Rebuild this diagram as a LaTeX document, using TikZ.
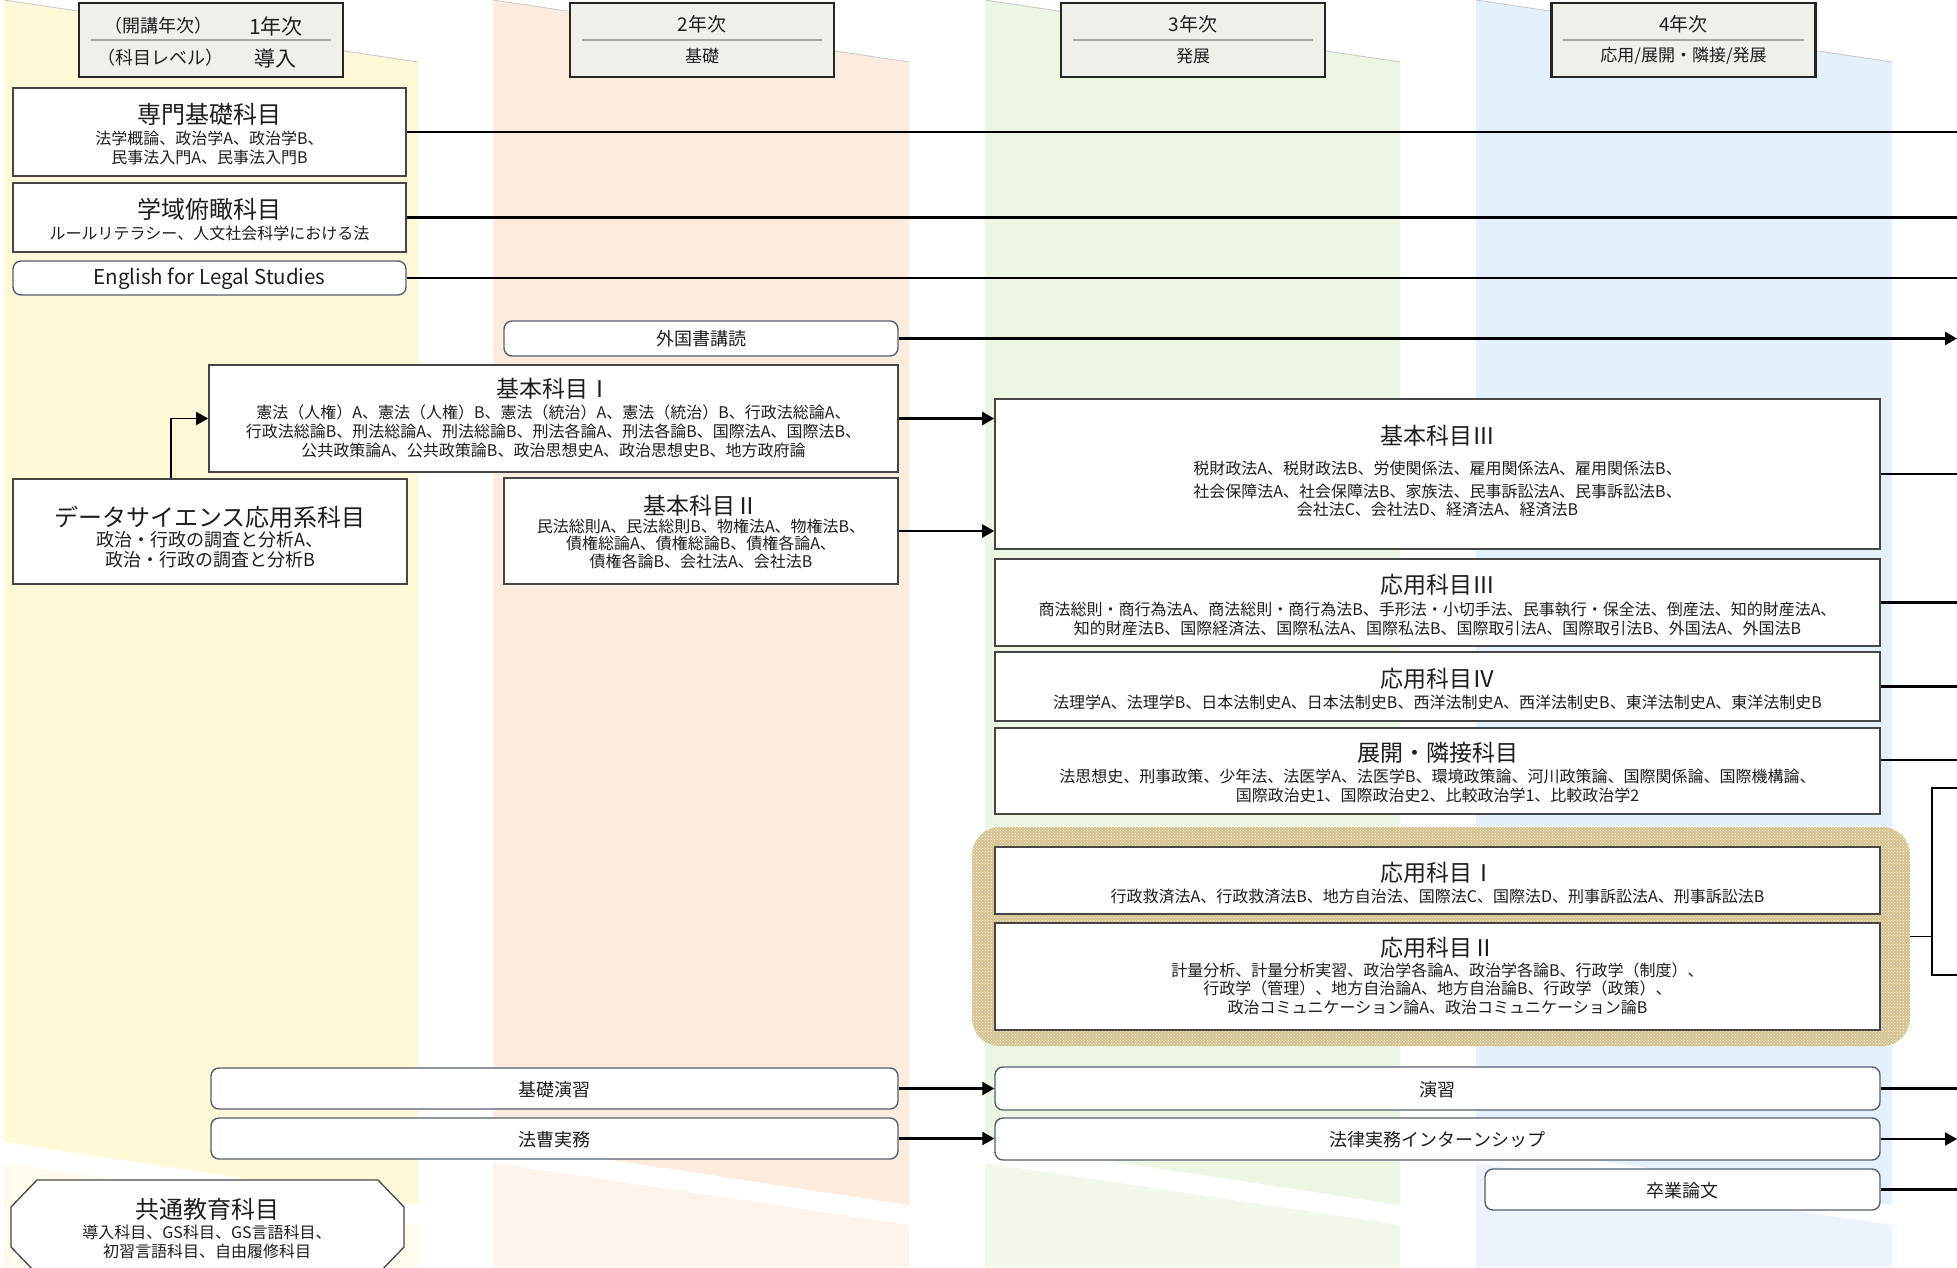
\documentclass[tikz,border=0pt]{standalone}
\usepackage{fontspec}
\setmainfont{Noto Sans CJK JP}
\usetikzlibrary{arrows.meta,patterns}
\definecolor{colA}{RGB}{255,249,215}
\definecolor{colAl}{RGB}{255,250,236}
\definecolor{colB}{RGB}{253,236,222}
\definecolor{colBl}{RGB}{253,243,234}
\definecolor{colC}{RGB}{236,246,226}
\definecolor{colCl}{RGB}{242,247,236}
\definecolor{colD}{RGB}{228,240,252}
\definecolor{colDl}{RGB}{237,243,250}
\definecolor{hdrfill}{RGB}{240,240,234}
\definecolor{boxline}{RGB}{70,70,70}
\definecolor{rline}{RGB}{85,95,115}
\definecolor{txt}{RGB}{30,30,30}
\definecolor{hatchbg}{RGB}{212,192,138}
\tikzset{
 hdr/.style={draw=black!85, line width=2.5pt, fill=hdrfill, minimum width=264pt, minimum height=74pt, inner sep=0pt},
 sepline/.style={draw=black!35, line width=1.5pt},
 box/.style={draw=boxline, line width=1.6pt, fill=white, inner sep=0pt},
 rbox/.style={draw=rline, line width=1.4pt, fill=white, rounded corners=8pt, inner sep=0pt},
 ttl/.style={font=\fontsize{23}{27}\selectfont, text=txt, inner sep=0pt},
 sub/.style={font=\fontsize{16}{19}\selectfont, text=txt, align=center, inner sep=0pt},
 htxt/.style={font=\fontsize{18}{21}\selectfont, text=txt, inner sep=0pt},
 btxt/.style={font=\fontsize{18}{21}\selectfont, text=txt, inner sep=0pt},
 conn/.style={draw=black, line width=2.4pt},
 thin/.style={draw=black, line width=1.6pt},
 arr/.style={conn, -{Triangle[length=12pt,width=13pt]}},
}
\begin{document}
\begin{tikzpicture}[x=1pt,y=-1pt]
\useasboundingbox (0,0) rectangle (1957,1267);
\fill[white] (0,0) rectangle (1957,1267);
% column backgrounds
\foreach \xl/\xr/\ca/\cz in {4/418/colA/colAl,493/909/colB/colBl,985/1400/colC/colCl,1476/1892/colD/colDl}{
 \fill[\ca] (\xl,0) -- (\xr,62) -- (\xr,1205) -- (\xl,1142) -- cycle;
 \fill[\cz] (\xl,1163) -- (\xr,1225) -- (\xr,1267) -- (\xl,1267) -- cycle;
 \draw[black!22, line width=0.8pt] (\xl,0) -- (\xr,62);
}
% headers
\node[hdr] (h1) at (211,40) {};
\node[hdr] (h2) at (702,40) {};
\node[hdr] (h3) at (1193,40) {};
\node[hdr] (h4) at (1683.5,40) {};
\foreach \h in {h1,h2,h3,h4}{
 \draw[sepline] ([xshift=13pt]\h.west) -- ([xshift=-13pt]\h.east);
}
\node[htxt, font=\fontsize{18}{21}\selectfont] (h1a) at (158,26) {（開講年次）};
\node[htxt, font=\fontsize{21}{24}\selectfont] (h1b) at (276,26) {1年次};
\node[htxt, font=\fontsize{18}{21}\selectfont] (h1c) at (160,58) {（科目レベル）};
\node[htxt, font=\fontsize{21}{24}\selectfont] (h1d) at (275,58) {導入};
\node[htxt, font=\fontsize{19}{22}\selectfont] (h2a) at (702,24) {2年次};
\node[htxt, font=\fontsize{17}{20}\selectfont] (h2b) at (702,56) {基礎};
\node[htxt, font=\fontsize{19}{22}\selectfont] (h3a) at (1193,24) {3年次};
\node[htxt, font=\fontsize{17}{20}\selectfont] (h3b) at (1193,56) {発展};
\node[htxt, font=\fontsize{19}{22}\selectfont] (h4a) at (1683.5,24) {4年次};
\node[htxt, font=\fontsize{17}{20}\selectfont] (h4b) at (1683.5,56) {応用/展開・隣接/発展};
% right edge reference
\coordinate (redge) at (1957,0);
% hatched group
\node[fill=hatchbg, postaction={pattern=crosshatch dots, pattern color=white}, rounded corners=28pt, minimum width=938pt, minimum height=219pt, inner sep=0pt] (hatch) at (1441,936.5) {};
% column 1 boxes
\node[box, minimum width=393pt, minimum height=88pt] (senmon) at (209.5,132) {};
\node[ttl, font=\fontsize{24}{28}\selectfont] (senmont) at (209.5,114) {専門基礎科目};
\node[sub] (senmons) at (209.5,147.5) {法学概論、政治学A、政治学B、\\民事法入門A、民事法入門B};
\node[box, minimum width=393pt, minimum height=69pt] (gakui) at (209.5,217.5) {};
\node[ttl, font=\fontsize{24}{28}\selectfont] (gakuit) at (209.5,209) {学域俯瞰科目};
\node[sub] (gakuis) at (209.5,233) {ルールリテラシー、人文社会科学における法};
\node[rbox, minimum width=393pt, minimum height=34pt] (eng) at (209.5,278) {};
\node[btxt, font=\fontsize{20.5}{23}\selectfont] (engt) at (209.5,279) {English for Legal Studies};
\node[box, minimum width=394pt, minimum height=105pt] (ds) at (210,531.5) {};
\node[ttl, font=\fontsize{24}{28}\selectfont] (dst) at (210,517) {データサイエンス応用系科目};
\node[sub, font=\fontsize{18}{20}\selectfont] (dss) at (210,549.5) {政治・行政の調査と分析A、\\政治・行政の調査と分析B};
% column 2 boxes
\node[rbox, minimum width=394pt, minimum height=35pt] (gaikoku) at (701,338.5) {};
\node[btxt] (gaikokut) at (701,339) {外国書講読};
\node[box, minimum width=689pt, minimum height=107pt] (k1) at (553.5,418.5) {};
\node[ttl] (k1t) at (553.5,389) {基本科目Ⅰ};
\node[sub] (k1s) at (553.5,431) {憲法（人権）A、憲法（人権）B、憲法（統治）A、憲法（統治）B、行政法総論A、\\行政法総論B、刑法総論A、刑法総論B、刑法各論A、刑法各論B、国際法A、国際法B、\\公共政策論A、公共政策論B、政治思想史A、政治思想史B、地方政府論};
\node[box, minimum width=394pt, minimum height=106pt] (k2) at (701,531) {};
\node[ttl] (k2t) at (701,506) {基本科目Ⅱ};
\node[sub, font=\fontsize{16}{17.5}\selectfont] (k2s) at (701,543.5) {民法総則A、民法総則B、物権法A、物権法B、\\債権総論A、債権総論B、債権各論A、\\債権各論B、会社法A、会社法B};
% column 3/4 boxes
\node[box, minimum width=885pt, minimum height=150pt] (k3) at (1437.5,474) {};
\node[ttl] (k3t) at (1437.5,436) {基本科目Ⅲ};
\node[sub, font=\fontsize{16}{18}\selectfont] (k3s) at (1437.5,488.5) {税財政法A、税財政法B、労使関係法、雇用関係法A、雇用関係法B、\\[5pt]社会保障法A、社会保障法B、家族法、民事訴訟法A、民事訴訟法B、\\会社法C、会社法D、経済法A、経済法B};
\node[box, minimum width=885pt, minimum height=87pt] (o3) at (1437.5,602.5) {};
\node[ttl] (o3t) at (1437.5,585) {応用科目Ⅲ};
\node[sub] (o3s) at (1437.5,618.5) {商法総則・商行為法A、商法総則・商行為法B、手形法・小切手法、民事執行・保全法、倒産法、知的財産法A、\\知的財産法B、国際経済法、国際私法A、国際私法B、国際取引法A、国際取引法B、外国法A、外国法B};
\node[box, minimum width=885pt, minimum height=69pt] (o4) at (1437.5,686.5) {};
\node[ttl] (o4t) at (1437.5,679) {応用科目Ⅳ};
\node[sub] (o4s) at (1437.5,702) {法理学A、法理学B、日本法制史A、日本法制史B、西洋法制史A、西洋法制史B、東洋法制史A、東洋法制史B};
\node[box, minimum width=885pt, minimum height=86pt] (tenkai) at (1437.5,771) {};
\node[ttl] (tenkait) at (1437.5,753) {展開・隣接科目};
\node[sub] (tenkais) at (1437.5,785.5) {法思想史、刑事政策、少年法、法医学A、法医学B、環境政策論、河川政策論、国際関係論、国際機構論、\\国際政治史1、国際政治史2、比較政治学1、比較政治学2};
\node[box, minimum width=885pt, minimum height=67pt] (o1) at (1437.5,880.5) {};
\node[ttl] (o1t) at (1437.5,873) {応用科目Ⅰ};
\node[sub] (o1s) at (1437.5,896) {行政救済法A、行政救済法B、地方自治法、国際法C、国際法D、刑事訴訟法A、刑事訴訟法B};
\node[box, minimum width=885pt, minimum height=107pt] (o2) at (1437.5,976.5) {};
\node[ttl] (o2t) at (1437.5,948) {応用科目Ⅱ};
\node[sub, font=\fontsize{16}{18.5}\selectfont] (o2s) at (1437.5,988.5) {計量分析、計量分析実習、政治学各論A、政治学各論B、行政学（制度）、\\行政学（管理）、地方自治論A、地方自治論B、行政学（政策）、\\政治コミュニケーション論A、政治コミュニケーション論B};
% bottom rows
\node[rbox, minimum width=687pt, minimum height=41pt] (kiso) at (554.5,1088.5) {};
\node[btxt] (kisot) at (554.5,1090) {基礎演習};
\node[rbox, minimum width=687pt, minimum height=41pt] (hoso) at (554.5,1138.5) {};
\node[btxt] (hosot) at (554.5,1140) {法曹実務};
\node[rbox, minimum width=885pt, minimum height=43pt] (enshu) at (1437.5,1088.5) {};
\node[btxt] (enshut) at (1437.5,1090) {演習};
\node[rbox, minimum width=885pt, minimum height=42pt] (intern) at (1437.5,1139) {};
\node[btxt] (interntt) at (1437.5,1140) {法律実務インターンシップ};
\node[rbox, minimum width=395pt, minimum height=41pt] (sotsu) at (1682.5,1189.5) {};
\node[btxt] (sotsut) at (1682.5,1191) {卒業論文};
% common education octagon
\draw[box, line width=1.3pt] (37,1180) -- (378,1180) -- (404,1207) -- (404,1247) -- (378,1274) -- (37,1274) -- (11,1247) -- (11,1207) -- cycle;
\node[ttl, font=\fontsize{24}{28}\selectfont] (kyotsut) at (207,1209) {共通教育科目};
\node[sub] (kyotsus) at (207,1241.5) {導入科目、GS科目、GS言語科目、\\初習言語科目、自由履修科目};
% connectors
\draw[conn] (senmon.east) -- (senmon.east -| redge);
\draw[conn] (gakui.east) -- (gakui.east -| redge);
\draw[conn] (eng.east) -- (eng.east -| redge);
\draw[arr] (gaikoku.east) -- (gaikoku.east -| redge);
\draw[arr, line width=1.8pt] ([xshift=-39pt]ds.north) |- (k1.west);
\draw[arr] (k1.east) -- (k1.east -| k3.west);
\draw[arr] (k2.east) -- (k2.east -| k3.west);
\draw[conn] (k3.east) -- (k3.east -| redge);
\draw[conn] (o3.east) -- (o3.east -| redge);
\draw[conn] (o4.east) -- (o4.east -| redge);
\draw[conn] ([yshift=11pt]tenkai.east) -- ([yshift=11pt]tenkai.east -| redge);
\coordinate (brt) at (1932,788);
\coordinate (brb) at (1932,975);
\draw[thin] (hatch.east) -- (hatch.east -| brt);
\draw[conn, line width=2pt] (brt -| redge) -- (brt) -- (brb) -- (brb -| redge);
\draw[arr] (kiso.east) -- (kiso.east -| enshu.west);
\draw[arr] (hoso.east) -- (hoso.east -| intern.west);
\draw[conn] (enshu.east) -- (enshu.east -| redge);
\draw[arr] (intern.east) -- (intern.east -| redge);
\draw[conn] (sotsu.east) -- (sotsu.east -| redge);
\end{tikzpicture}
\end{document}
